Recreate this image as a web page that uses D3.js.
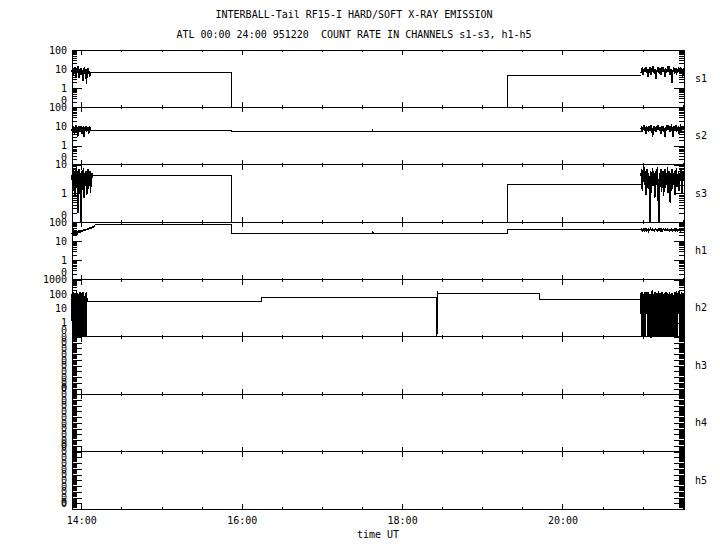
<!DOCTYPE html>
<html>
<head>
<meta charset="utf-8">
<script src="https://cdn.jsdelivr.net/npm/d3@7"></script>
<style>
body { margin: 0; background: #fff; }
text { font-family: "DejaVu Sans Mono", monospace; font-size: 10px; fill: #000; }
.line-path { fill: none; stroke: #000; stroke-width: 1; shape-rendering: crispEdges; }
.burst { stroke-width: 1.6; }
</style>
</head>
<body>
<div id="viz"></div>
<script>
const width = 720;
const height = 550;

const title = "INTERBALL-Tail RF15-I HARD/SOFT X-RAY EMISSION";
const subtitle = "ATL 00:00 24:00 951220  COUNT RATE IN CHANNELS s1-s3, h1-h5";
const xAxisLabel = "time UT";

// panels, top to bottom
const channels = ["s1", "s2", "s3", "h1", "h2", "h3", "h4", "h5"];
const yMin = [0.1, 0.1, 0.1, 0.1, 0.1, 1e-11, 1e-11, 1e-11];
const yMax = [100, 100, 10, 100, 1000, 0.1, 0.1, 0.1];

// time in hours UT
const timeRange = [13.884, 21.515];
const xTicksMajor = [14, 16, 18, 20];
const xTicksMinor = [14, 14.5, 15, 15.5, 16, 16.5, 17, 17.5, 18, 18.5, 19, 19.5, 20, 20.5, 21, 21.5];
const postStart = 20.979;

// count rates: burst at start, stepped middle, burst at end
const s1Pre = [7, 10, 5, 12, 8, 6, 13, 9, 4, 11, 7, 14, 6, 9, 3.5, 10, 8, 12, 5, 9, 7, 2.5, 11, 6, 13, 8, 5, 10, 1.7, 9, 7, 12, 6, 8, 4, 7];
const s1StepT = [14.11, 15.879, 15.879, 19.32, 19.32, 20.979];
const s1StepV = [6.8, 6.8, 0, 0, 4.9, 4.9];
const s1Post = [6, 9, 12, 5, 8, 11, 7, 13, 6, 10, 4, 9, 8, 12, 7, 5, 11, 9, 14, 6, 8, 10, 3, 9, 7, 12, 8, 6, 11, 5, 9, 13, 7, 10, 8, 4, 12, 6, 9, 11, 7, 14, 8, 5, 10, 2, 9, 7, 12, 6, 8, 11, 5, 10, 7, 13, 9, 6, 12, 8, 10, 4, 9, 11];

const s2Pre = [6, 8, 5, 10, 7, 4, 9, 6, 12, 5, 8, 3, 7, 10, 6, 9, 5, 11, 7, 4, 8, 6, 10, 2.7, 9, 6, 7, 11, 5, 8, 6, 9, 4, 7, 10, 6];
const s2StepT = [14.11, 15.879, 15.879, 17.63, 17.635, 17.64, 20.979];
const s2StepV = [6, 6, 5.5, 5.5, 6.6, 5.5, 5.5];
const s2Post = [7, 10, 5, 8, 12, 6, 9, 4, 11, 7, 8, 5, 10, 6, 12, 9, 7, 3, 8, 11, 6, 9, 5, 10, 7, 12, 8, 6, 9, 4, 11, 7, 10, 5, 8, 3, 9, 6, 12, 7, 10, 8, 5, 11, 6, 9, 7, 2.8, 10, 8, 6, 12, 5, 9, 7, 11, 4, 8, 10, 6, 9, 7, 11, 8];

const s3Pre = [3, 6, 1.2, 7, 2, 5, 0.8, 4, 8, 1.5, 6, 0.2, 3, 7, 1, 5, 2.5, 0, 6, 1.3, 4, 7.5, 0.7, 3, 5, 1.8, 6, 0.9, 4, 7, 1.4, 5, 2.2, 6, 1, 4, 3, 5];
const s3StepT = [14.135, 15.879, 15.879, 19.32, 19.32, 20.979];
const s3StepV = [4.2, 4.2, 0, 0, 2.1, 2.1];
const s3Post = [4, 7, 1.2, 5, 8, 2, 6, 0.9, 3, 7, 1.5, 5, 2.4, 0, 6, 1, 4, 7.5, 1.8, 5, 0.7, 3, 6, 2, 8, 1.3, 0, 5, 2.6, 7, 1.1, 4, 6, 0.8, 3, 7, 1.6, 5, 2.2, 8, 1, 4, 6, 0.45, 3, 7, 1.4, 5, 2, 6, 0.9, 4, 7.5, 1.7, 3, 6, 1.2, 5, 2.8, 7, 1, 4, 6, 3];

const h1Pre = [28, 20, 32, 24, 31, 21, 30, 25, 33, 29, 35, 31, 36, 33, 38, 36, 40, 38, 42, 41, 45, 43, 48, 46, 50, 49, 54, 52, 58, 62];
const h1StepT = [14.17, 15.879, 15.879, 17.63, 17.635, 17.64, 19.32, 19.32, 20.979];
const h1StepV = [71, 71, 27, 27, 31, 27, 27, 39, 39];
const h1Post = [38, 42, 35, 40, 45, 37, 41, 36, 44, 39, 34, 42, 38, 46, 40, 36, 43, 39, 35, 41, 44, 38, 40, 36, 42, 39, 45, 37, 41, 33, 40, 43, 38, 36, 42, 39, 44, 37, 40, 35, 41, 38, 43, 36, 40, 39, 42, 37, 44, 38, 35, 41, 39, 43, 36, 40, 38, 42, 39, 41];

const h2Pre = [100, 0, 140, 60, 0, 120, 0, 0, 90, 150, 0, 110, 0, 80, 0, 130, 100, 0, 0, 120, 0, 90, 140, 0, 70, 0, 110, 0, 130, 30];
const h2StepT = [14.07, 16.253, 16.253, 18.435, 18.435, 18.44, 18.445, 19.707, 19.707, 20.979];
const h2StepV = [29, 29, 52, 52, 0, 160, 100, 100, 42, 42];
const h2Post = [110, 0, 130, 0, 90, 0, 140, 0, 100, 120, 110, 0, 130, 0, 90, 0, 0, 120, 140, 0, 100, 0, 130, 0, 80, 0, 120, 0, 150, 0, 110, 0, 90, 0, 130, 0, 100, 0, 120, 0, 140, 0, 110, 0, 90, 0, 130, 0, 100, 0, 120, 0, 80, 0, 140, 0, 110, 130, 0, 100, 120, 140, 0, 90, 0, 130, 0, 110, 0, 120];

const flatT = [13.884, 21.515];
const flatV = [0, 0];

const svg = d3.select("#viz")
    .append("svg")
    .attr("width", width)
    .attr("height", height)
    .attr("viewBox", `0 0 ${width} ${height}`);

const margin = { top: 50, right: 36, bottom: 41, left: 72 };
const x0 = margin.left;
const x1 = width - margin.right;
const panelH = (height - margin.top - margin.bottom) / channels.length;

const xScale = d3.scaleLinear().domain(timeRange).range([x0, x1]);

// burst samples are spread evenly over their time span
const burst = (vals, tA, tB) => vals.map((v, k) => ({ t: tA + (tB - tA) * k / (vals.length - 1), v: v }));
const steps = (ts, vs) => ts.map((t, k) => ({ t: t, v: vs[k] }));

const traces = [
    [burst(s1Pre, timeRange[0], s1StepT[0]), steps(s1StepT, s1StepV), burst(s1Post, postStart, timeRange[1])],
    [burst(s2Pre, timeRange[0], s2StepT[0]), steps(s2StepT, s2StepV), burst(s2Post, postStart, timeRange[1])],
    [burst(s3Pre, timeRange[0], s3StepT[0]), steps(s3StepT, s3StepV), burst(s3Post, postStart, timeRange[1])],
    [burst(h1Pre, timeRange[0], h1StepT[0]), steps(h1StepT, h1StepV), burst(h1Post, postStart, timeRange[1])],
    [burst(h2Pre, timeRange[0], h2StepT[0]), steps(h2StepT, h2StepV), burst(h2Post, postStart, timeRange[1])],
    [[], steps(flatT, flatV), []],
    [[], steps(flatT, flatV), []],
    [[], steps(flatT, flatV), []]
];

const noDomain = g => g.select(".domain").remove();
const tickLabel = v => v >= 1 ? d3.format("d")(v) : "0";

channels.forEach((name, i) => {
    const top = margin.top + i * panelH;
    const bottom = top + panelH;
    const yScale = d3.scaleLog()
        .domain([yMin[i], yMax[i]])
        .range([bottom, top]);

    // decade ticks and 2..9 minor ticks
    const eLo = Math.round(Math.log10(yMin[i]));
    const eHi = Math.round(Math.log10(yMax[i]));
    const majors = d3.range(eLo, eHi + 1).map(e => Math.pow(10, e));
    const minors = [];
    majors.slice(0, -1).forEach(m => d3.range(2, 10).forEach(k => minors.push(m * k)));

    const g = svg.append("g").attr("class", "panel");

    // left axis
    g.append("g")
        .attr("transform", `translate(${x0}, 0)`)
        .call(d3.axisLeft(yScale).tickValues(minors).tickSize(-5).tickFormat(""))
        .call(noDomain);
    const yAxisG = g.append("g")
        .attr("transform", `translate(${x0}, 0)`)
        .call(d3.axisLeft(yScale).tickValues(majors).tickSize(-10).tickPadding(5).tickFormat(tickLabel))
        .call(noDomain);
    yAxisG.selectAll("text")
        .attr("font-family", null)
        .attr("dy", d => d === majors[0] ? "-0.38em" : "0.32em");

    // right axis, same ticks
    g.append("g")
        .attr("transform", `translate(${x1}, 0)`)
        .call(d3.axisRight(yScale).tickValues(minors).tickSize(-5).tickFormat(""))
        .call(noDomain);
    g.append("g")
        .attr("transform", `translate(${x1}, 0)`)
        .call(d3.axisRight(yScale).tickValues(majors).tickSize(-10).tickFormat(""))
        .call(noDomain);

    // time ticks on top and bottom edges
    g.append("g")
        .attr("transform", `translate(0, ${top})`)
        .call(d3.axisTop(xScale).tickValues(xTicksMinor).tickSize(-2).tickFormat(""))
        .call(noDomain);
    g.append("g")
        .attr("transform", `translate(0, ${top})`)
        .call(d3.axisTop(xScale).tickValues(xTicksMajor).tickSize(-5).tickFormat(""))
        .call(noDomain);
    g.append("g")
        .attr("transform", `translate(0, ${bottom})`)
        .call(d3.axisBottom(xScale).tickValues(xTicksMinor).tickSize(-2).tickFormat(""))
        .call(noDomain);
    const xAxisG = g.append("g")
        .attr("transform", `translate(0, ${bottom})`)
        .call(d3.axisBottom(xScale).tickValues(xTicksMajor).tickSize(-5).tickPadding(8)
            .tickFormat(i === channels.length - 1 ? d => `${d}:00` : ""))
        .call(noDomain);
    xAxisG.selectAll("text").attr("font-family", null);

    // frame
    g.append("rect")
        .attr("x", x0)
        .attr("y", top)
        .attr("width", x1 - x0)
        .attr("height", panelH)
        .attr("fill", "none")
        .attr("stroke", "#000")
        .attr("shape-rendering", "crispEdges");

    const lineGenerator = d3.line()
        .x(d => xScale(d.t))
        .y(d => yScale(Math.max(d.v, yMin[i])));

    traces[i].forEach((part, k) => {
        if (part.length === 0) return;
        g.append("path")
            .attr("class", k === 1 ? "line-path" : "line-path burst")
            .attr("d", lineGenerator(part));
    });

    g.append("text")
        .attr("x", 695)
        .attr("y", (top + bottom) / 2)
        .attr("dy", "0.32em")
        .text(name);
});

svg.selectAll(".tick line").attr("shape-rendering", "crispEdges");

svg.append("text")
    .attr("x", 354)
    .attr("y", 18)
    .attr("text-anchor", "middle")
    .text(title);

svg.append("text")
    .attr("x", 354)
    .attr("y", 38)
    .attr("text-anchor", "middle")
    .style("white-space", "pre")
    .text(subtitle);

svg.append("text")
    .attr("x", (x0 + x1) / 2)
    .attr("y", 538)
    .attr("text-anchor", "middle")
    .text(xAxisLabel);
</script>
</body>
</html>
